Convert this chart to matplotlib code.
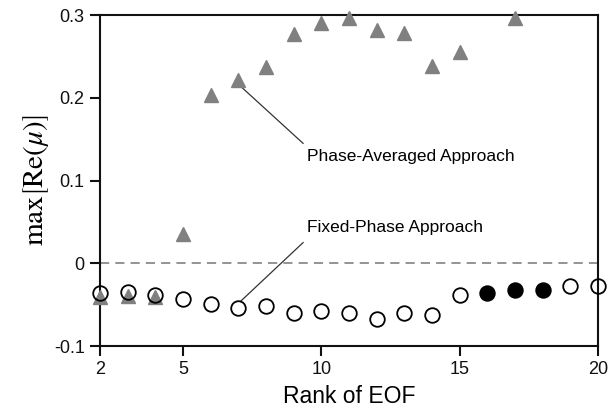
import matplotlib
matplotlib.use("Agg")
import matplotlib.pyplot as plt

rank = list(range(2, 21))

# max Re(mu) per EOF rank, phase-averaged (triangles)
pa_rank = [2, 3, 4, 5, 6, 7, 8, 9, 10, 11, 12, 13, 14, 15, 17]
pa_val = [-0.041, -0.040, -0.041, 0.035, 0.203, 0.222, 0.237, 0.277, 0.290,
          0.297, 0.282, 0.278, 0.238, 0.255, 0.297]

# fixed-phase (circles); filled where marked
fp_val = [-0.036, -0.035, -0.038, -0.043, -0.049, -0.054, -0.052, -0.060, -0.058,
          -0.060, -0.067, -0.060, -0.062, -0.038, -0.036, -0.032, -0.032, -0.028, -0.028]
fp_filled = [16, 17, 18]

plt.rcParams["font.family"] = ["Liberation Sans", "DejaVu Sans"]
plt.rcParams["mathtext.fontset"] = "stix"

fig = plt.figure(figsize=(6.08, 4.09), dpi=100)
ax = fig.add_axes([0.1645, 0.154, 0.819, 0.809])

ax.axhline(0, color="#777777", lw=1.1, ls=(0, (6, 4)), zorder=1)

ax.plot(pa_rank, pa_val, ls="none", marker="^", ms=10.5, color="#808080",
        mec="#808080", clip_on=False, zorder=3)

open_x = [r for r in rank if r not in fp_filled]
open_y = [v for r, v in zip(rank, fp_val) if r not in fp_filled]
fill_y = [v for r, v in zip(rank, fp_val) if r in fp_filled]
ax.plot(open_x, open_y, ls="none", marker="o", ms=10.5, mfc="none", mec="black",
        mew=1.3, clip_on=False, zorder=4)
ax.plot(fp_filled, fill_y, ls="none", marker="o", ms=10.5, mfc="black", mec="black",
        mew=1.3, clip_on=False, zorder=4)

ax.set_xlim(2, 20)
ax.set_ylim(-0.1, 0.3)
ax.set_xticks([2, 5, 10, 15, 20])
ax.set_yticks([-0.1, 0, 0.1, 0.2, 0.3])
ax.set_yticklabels(["-0.1", "0", "0.1", "0.2", "0.3"])
ax.tick_params(direction="out", length=7.5, width=1.5, labelsize=13, colors="#111111")
ax.tick_params(axis="x", pad=3)
for s in ax.spines.values():
    s.set_linewidth(1.5)
    s.set_color("#111111")

# leader lines and labels
ax.plot([7.08, 9.34], [0.214, 0.145], color="#333333", lw=0.9, zorder=2)
ax.text(9.48, 0.129, "Phase-Averaged Approach", fontsize=12.5, ha="left", va="center")
ax.plot([7.08, 9.34], [-0.046, 0.025], color="#333333", lw=0.9, zorder=2)
ax.text(9.48, 0.0435, "Fixed-Phase Approach", fontsize=12.5, ha="left", va="center")

ax.set_xlabel("Rank of EOF", fontsize=16.5, labelpad=5)
ax.set_ylabel(r"$\max\left[\mathrm{Re}\left(\mu\right)\right]$", fontsize=21, labelpad=2)

fig.savefig("out.png", dpi=100, facecolor="white")
